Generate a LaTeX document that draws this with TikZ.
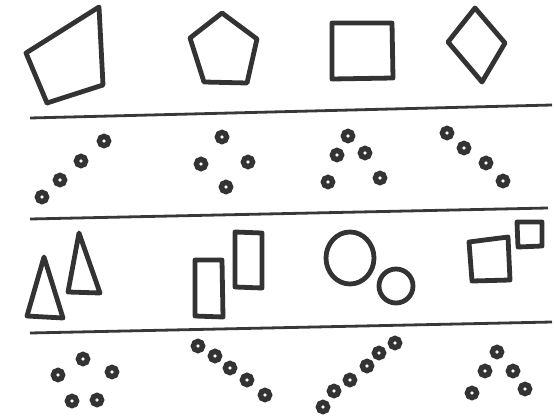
\documentclass[tikz,border=0pt]{standalone}
\begin{document}
\begin{tikzpicture}[x=1pt,y=-1pt,
  ink/.style={draw=black!80,line width=4.8pt,line join=round,line cap=round},
  rule/.style={draw=black!78,line width=2.8pt},
  ring/.style={draw=black!80,line width=5.4pt}]
\useasboundingbox[fill=white] (0,0) rectangle (554,417);
% separator rules
\draw[rule] (30,118) -- (552,105);
\draw[rule] (30,219) -- (548,208);
\draw[rule] (30,333) -- (552,322);
% row 1
\draw[ink] (26,53) -- (99,7) -- (103,85) -- (47,103) -- cycle;
\draw[ink] (222,13) -- (257,39) -- (247,83) -- (204,82) -- (190,38) -- cycle;
\draw[ink] (332,23) -- (392,23) -- (393,78) -- (332,79) -- cycle;
\draw[ink] (475,8) -- (505,43) -- (482,82) -- (448,42) -- cycle;
% row 2 dots
\foreach \p in {(42,197),(60,180),(81,161),(104,141),
  (222,137),(201,164),(248,162),(226,187),
  (348,136),(337,155),(365,153),(328,182),(380,178),
  (447,133),(464,148),(486,163),(503,181)}
  \draw[ring] \p circle[radius=4.6];
% row 3
\draw[ink] (44,257) -- (63,318) -- (27,316) -- cycle;
\draw[ink] (79,233) -- (100,293) -- (68,292) -- cycle;
\draw[ink] (195,260) -- (222,260) -- (223,317) -- (195,316) -- cycle;
\draw[ink] (235,232) -- (262,233) -- (262,288) -- (235,287) -- cycle;
\draw[ink] (350,258) ellipse[x radius=24,y radius=26];
\draw[ink] (396,286) circle[radius=17];
\draw[ink] (469,242) -- (508,237) -- (510,280) -- (472,281) -- cycle;
\draw[ink] (517,222) -- (542,222) -- (542,246) -- (518,247) -- cycle;
% row 4 dots
\foreach \p in {(83,359),(58,375),(112,372),(72,401),(97,400),
  (198,346),(215,356),(230,368),(247,380),(265,395),
  (323,407),(334,391),(350,380),(367,366),(379,353),(395,343),
  (497,352),(485,371),(513,371),(472,393),(525,389)}
  \draw[ring] \p circle[radius=4.6];
\end{tikzpicture}
\end{document}
